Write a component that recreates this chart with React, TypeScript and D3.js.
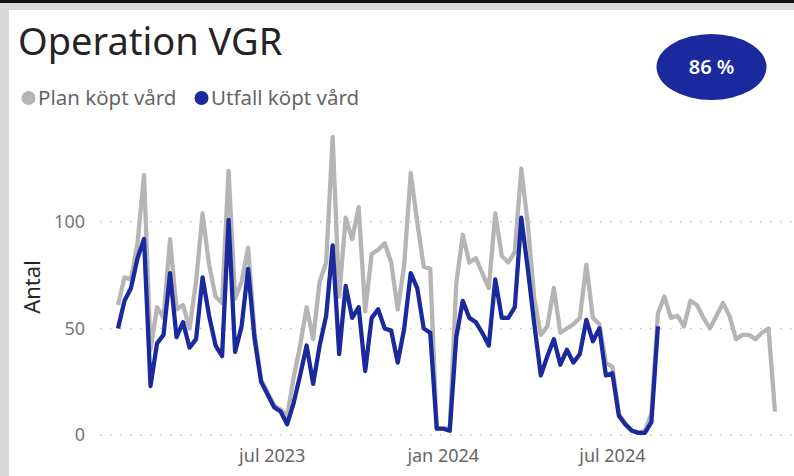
import React, { useEffect, useRef } from 'react';
import * as d3 from 'd3';

// weekly values (monday weeks)
const planValues = [
  61, 74, 73, 90, 122, 40, 60, 55, 92, 59, 61, 50, 72, 104, 80, 65, 62, 124, 64, 72,
  88, 48, 26, 20, 14, 12, 9, 27, 42, 60, 45, 72, 81, 140, 65, 102, 92, 107, 58, 85,
  87, 90, 81, 59, 80, 123, 100, 79, 78, 3, 3, 3, 71, 94, 81, 83, 76, 69, 104, 84,
  81, 86, 125, 99, 64, 47, 51, 69, 48, 50, 52, 55, 80, 55, 52, 34, 32, 10, 5, 2,
  1, 2, 10, 57, 65, 55, 56, 51, 63, 61, 55, 50, 56, 62, 56, 45, 47, 47, 45, 48,
  50, 11,
];
const utfallValues = [
  50, 63, 69, 83, 92, 23, 43, 47, 76, 46, 53, 41, 45, 74, 56, 42, 37, 101, 39, 51,
  78, 45, 25, 19, 13, 11, 5, 15, 28, 42, 24, 42, 56, 89, 38, 70, 55, 60, 30, 55,
  59, 50, 49, 34, 50, 76, 69, 50, 48, 3, 3, 2, 46, 63, 55, 53, 48, 42, 73, 55,
  55, 60, 102, 78, 52, 28, 37, 45, 33, 40, 34, 38, 54, 44, 50, 28, 29, 9, 5, 2,
  1, 1, 6, 51,
];
const yTicks = [0, 50, 100];
const svMonths = ['jan', 'feb', 'mar', 'apr', 'maj', 'jun', 'jul', 'aug', 'sep', 'okt', 'nov', 'dec'];
const legendItems = ['Plan köpt vård', 'Utfall köpt vård'];
const kpiText = '86 %';

const weeks = d3.timeMonday.range(new Date(2023, 0, 16), new Date(2024, 11, 24));

const FONT = "'Segoe UI', 'Noto Sans', sans-serif";
const BLUE = '#1a2a9e';
const GRAY = '#b5b5b5';

const App = () => {
  const svgRef = useRef<SVGSVGElement>(null);

  useEffect(() => {
    const width = 794;
    const height = 476;
    const svg = d3.select(svgRef.current);
    svg.selectAll('*').remove();
    svg.attr('width', width).attr('height', height);

    // frame
    svg.append('rect').attr('width', width).attr('height', height).attr('fill', '#d9d9d9');
    svg.append('rect').attr('x', 9).attr('y', 10).attr('width', width - 9).attr('height', height - 10).attr('fill', 'white');
    svg.append('rect').attr('width', width).attr('height', 3).attr('fill', '#111');

    const x = d3.scaleTime()
      .domain([weeks[0], weeks[weeks.length - 1]])
      .range([118, 775]);
    const y = d3.scaleLinear().domain([0, 100]).range([435, 222]);

    // gridlines
    svg.append('g')
      .selectAll('line')
      .data(yTicks)
      .enter()
      .append('line')
      .attr('x1', 100)
      .attr('x2', width)
      .attr('y1', d => y(d))
      .attr('y2', d => y(d))
      .attr('stroke', '#c6c6c6')
      .attr('stroke-width', 1.5)
      .attr('stroke-dasharray', '1.5,8.5');

    // y tick labels
    svg.append('g')
      .selectAll('text')
      .data(yTicks)
      .enter()
      .append('text')
      .attr('x', 85)
      .attr('y', d => y(d))
      .attr('dy', '0.35em')
      .attr('text-anchor', 'end')
      .attr('font-family', FONT)
      .attr('font-size', 18)
      .attr('fill', '#777')
      .text(d => d);

    // x tick labels
    const xTicks = x.ticks(d3.timeMonth.every(6) as d3.TimeInterval);
    svg.append('g')
      .selectAll('text')
      .data(xTicks)
      .enter()
      .append('text')
      .attr('x', d => x(d))
      .attr('y', 462)
      .attr('text-anchor', 'middle')
      .attr('font-family', FONT)
      .attr('font-size', 18)
      .attr('fill', '#666')
      .text(d => `${svMonths[d.getMonth()]} ${d.getFullYear()}`);

    // axis title
    svg.append('text')
      .attr('transform', 'translate(40,287) rotate(-90)')
      .attr('text-anchor', 'middle')
      .attr('font-family', FONT)
      .attr('font-size', 22)
      .attr('fill', '#252423')
      .text('Antal');

    const line = d3.line<number>()
      .x((d, i) => x(weeks[i]))
      .y(d => y(d));

    svg.append('path')
      .datum(planValues)
      .attr('d', line)
      .attr('fill', 'none')
      .attr('stroke', GRAY)
      .attr('stroke-width', 4.3)
      .attr('stroke-linejoin', 'round');

    svg.append('path')
      .datum(utfallValues)
      .attr('d', line)
      .attr('fill', 'none')
      .attr('stroke', BLUE)
      .attr('stroke-width', 4.3)
      .attr('stroke-linejoin', 'round');

    // title
    svg.append('text')
      .attr('x', 18)
      .attr('y', 55)
      .attr('font-family', FONT)
      .attr('font-size', 38)
      .attr('fill', '#252423')
      .text('Operation VGR');

    // legend
    const legendX = [28.5, 201.5];
    const legendColors = [GRAY, BLUE];
    const legend = svg.append('g')
      .selectAll('g')
      .data(legendItems)
      .enter()
      .append('g')
      .attr('transform', (d, i) => `translate(${legendX[i]},98)`);
    legend.append('circle').attr('r', 7).attr('fill', (d, i) => legendColors[i]);
    legend.append('text')
      .attr('x', 9.5)
      .attr('y', 4)
      .attr('dy', '0.15em')
      .attr('font-family', FONT)
      .attr('font-size', 20.5)
      .attr('fill', '#666')
      .text(d => d);

    // KPI badge
    svg.append('ellipse')
      .attr('cx', 711.5)
      .attr('cy', 67)
      .attr('rx', 55)
      .attr('ry', 33)
      .attr('fill', BLUE);
    svg.append('text')
      .attr('x', 711.5)
      .attr('y', 67)
      .attr('dy', '0.35em')
      .attr('text-anchor', 'middle')
      .attr('font-family', FONT)
      .attr('font-size', 20)
      .attr('font-weight', 600)
      .attr('fill', 'white')
      .text(kpiText);
  }, []);

  return (
    <div style={{ position: 'fixed', left: 0, top: 0 }}>
      <svg ref={svgRef} style={{ display: 'block' }}></svg>
    </div>
  );
};

export default App;
